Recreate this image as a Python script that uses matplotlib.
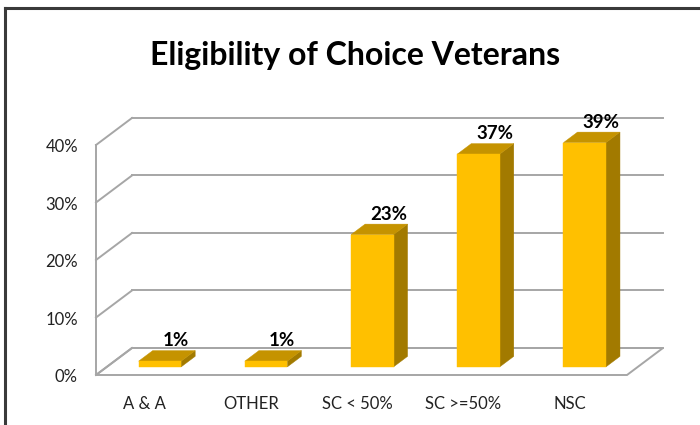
import matplotlib
matplotlib.use("Agg")
import matplotlib.pyplot as plt
from matplotlib.patches import Polygon
from matplotlib.lines import Line2D

plt.rcParams['font.family'] = ['Lato', 'DejaVu Sans']

categories = ["A & A", "OTHER", "SC < 50%", "SC >=50%", "NSC"]
values = [1, 1, 23, 37, 39]
value_labels = ["1%", "1%", "23%", "37%", "39%"]
y_ticks = [0, 10, 20, 30, 40]
y_tick_labels = ["0%", "10%", "20%", "30%", "40%"]
title = "Eligibility of Choice Veterans"

W, H = 700, 425
fig = plt.figure(figsize=(W / 100, H / 100), dpi=100)
fig.patch.set_facecolor('white')

# front plane of the 3D box
ax = fig.add_axes([96 / W, 50 / H, 531 / W, 230 / H])
ax.set_xlim(0, len(categories))
ax.set_ylim(0, 40)
ax.axis('off')

# oblique depth offsets (data units for full depth)
DX = 0.339
DY = 4.70

def P(x, y, d):
    return (x + d * DX, y + d * DY)

grid_c = '#A6A6A6'
n = len(categories)
# floor
floor = [P(0, 0, 0), P(n, 0, 0), P(n, 0, 1), P(0, 0, 1)]
ax.add_patch(Polygon(floor, closed=True, fill=False, edgecolor=grid_c,
                     lw=1.4, clip_on=False, zorder=1))
# back wall gridlines and left-wall diagonals
for yv in y_ticks:
    x0, y0 = P(0, yv, 1)
    x1, y1 = P(n, yv, 1)
    ax.add_line(Line2D([x0, x1], [y0, y1], color=grid_c, lw=1.4, clip_on=False, zorder=1))
    a, b = P(0, yv, 0)
    ax.add_line(Line2D([a, x0], [b, y0], color=grid_c, lw=1.4, clip_on=False, zorder=1))
# left wall front vertical
ax.add_line(Line2D([0, 0], [0, 40], color=grid_c, lw=1.4, clip_on=False, zorder=1))

# bars
front_c = '#FFC000'
side_c = '#A27A00'
top_c = '#C59300'
bw = 0.4
d0, d1 = 0.30, 0.69
for i, v in enumerate(values):
    xc = i + 0.5
    xl, xr = xc - bw / 2, xc + bw / 2
    front = [P(xl, 0, d0), P(xr, 0, d0), P(xr, v, d0), P(xl, v, d0)]
    side = [P(xr, 0, d0), P(xr, 0, d1), P(xr, v, d1), P(xr, v, d0)]
    top = [P(xl, v, d0), P(xr, v, d0), P(xr, v, d1), P(xl, v, d1)]
    for poly, c in ((side, side_c), (top, top_c), (front, front_c)):
        ax.add_patch(Polygon(poly, closed=True, facecolor=c, edgecolor=c,
                             lw=0.3, clip_on=False, zorder=3))
    lx, ly = P(xc + 0.02, v, d1)
    ax.annotate(value_labels[i], (lx, ly), xytext=(0, 1), textcoords='offset points',
                ha='center', va='bottom', fontsize=13.5, fontweight='bold',
                color='black', zorder=5, annotation_clip=False)

# tick labels
for yv, lab in zip(y_ticks, y_tick_labels):
    ax.annotate(lab, (0, yv), xytext=(-13, -1.5), textcoords='offset points',
                ha='right', va='center', fontsize=12, color='#222222',
                annotation_clip=False)
for i, lab in enumerate(categories):
    ax.annotate(lab, (i + 0.5, 0), xytext=(-3, -15), textcoords='offset points',
                ha='center', va='top', fontsize=12, color='#222222',
                annotation_clip=False)

# title
fig.text(355 / W, 1 - 55 / H, title, ha='center', va='center',
         fontsize=23, fontweight='bold', color='black')

# chart area border (top and left visible)
bc = '#3A3A3A'
fig.add_artist(Line2D([5 / W, 1], [1 - 8 / H, 1 - 8 / H], color=bc, lw=2.2,
                      transform=fig.transFigure))
fig.add_artist(Line2D([5 / W, 5 / W], [0, 1 - 8 / H], color=bc, lw=2.2,
                      transform=fig.transFigure))

fig.savefig('out.png', dpi=100, facecolor='white')
